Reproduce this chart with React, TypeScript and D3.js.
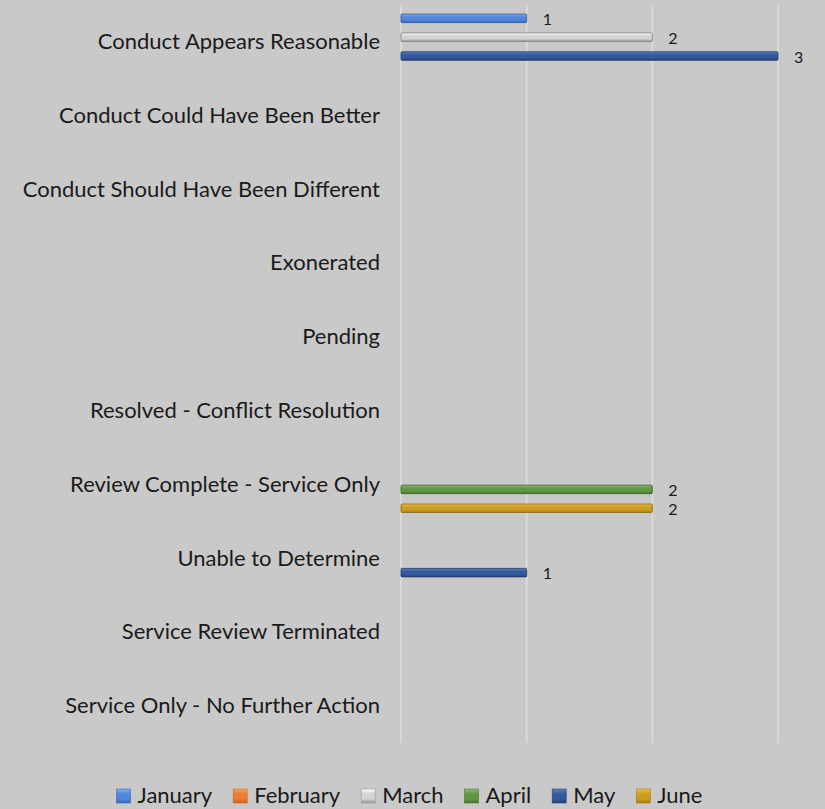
import { useEffect, useRef } from 'react';
import * as d3 from 'd3';

const categories = [
  'Conduct Appears Reasonable',
  'Conduct Could Have Been Better',
  'Conduct Should Have Been Different',
  'Exonerated',
  'Pending',
  'Resolved - Conflict Resolution',
  'Review Complete - Service Only',
  'Unable to Determine',
  'Service Review Terminated',
  'Service Only - No Further Action',
];

const months = ['January', 'February', 'March', 'April', 'May', 'June'];

const january = [1, 0, 0, 0, 0, 0, 0, 0, 0, 0];
const february = [0, 0, 0, 0, 0, 0, 0, 0, 0, 0];
const march = [2, 0, 0, 0, 0, 0, 0, 0, 0, 0];
const april = [0, 0, 0, 0, 0, 0, 2, 0, 0, 0];
const may = [3, 0, 0, 0, 0, 0, 0, 1, 0, 0];
const june = [0, 0, 0, 0, 0, 0, 2, 0, 0, 0];

const xTicks = [0, 1, 2, 3];

// highlight, base, shade, outline
const palette = [
  ['#86b0f2', '#5286dc', '#3a67b8', '#2f5597'],
  ['#f8a862', '#ed7d31', '#c8641e', '#ae5a21'],
  ['#ffffff', '#d3d3d3', '#969696', '#808080'],
  ['#8fbf70', '#609745', '#46752f', '#3b6427'],
  ['#5d84c8', '#36599c', '#263f72', '#1f3864'],
  ['#ecc048', '#cc9d20', '#a37c12', '#8a6a0f'],
];

const W = 825;
const H = 809;
const FONT = 'Lato, "Liberation Sans", sans-serif';

export default function App() {
  const ref = useRef<SVGSVGElement | null>(null);

  useEffect(() => {
    if (!ref.current) return;
    const svg = d3.select(ref.current);
    svg.selectAll('*').remove();

    const seriesValues = [january, february, march, april, may, june];
    const rows = months.flatMap((m, si) =>
      categories.map((c, ci) => ({ month: m, si, cat: c, value: seriesValues[si][ci] }))
    );

    const plot = { left: 401, right: 778, top: 5, bottom: 743 };

    const x = d3.scaleLinear().domain([0, 3]).range([plot.left, plot.right]);
    const y0 = d3.scaleBand<string>()
      .domain(categories)
      .range([plot.top, plot.bottom])
      .paddingInner(0.236)
      .paddingOuter(0.118);
    const y1 = d3.scaleBand<string>()
      .domain(months)
      .range([0, y0.bandwidth()])
      .paddingInner(0.1)
      .paddingOuter(0.04);

    svg.append('rect').attr('width', W).attr('height', H).attr('fill', '#c9c9c9');

    const defs = svg.append('defs');
    palette.forEach((p, i) => {
      const g = defs.append('linearGradient')
        .attr('id', `bar-grad-${i}`)
        .attr('x1', 0).attr('y1', 0).attr('x2', 0).attr('y2', 1);
      g.append('stop').attr('offset', '0%').attr('stop-color', p[0]);
      g.append('stop').attr('offset', '35%').attr('stop-color', p[1]);
      g.append('stop').attr('offset', '70%').attr('stop-color', p[1]);
      g.append('stop').attr('offset', '100%').attr('stop-color', p[2]);
    });

    // gridlines
    svg.append('g')
      .selectAll('line')
      .data(xTicks)
      .join('line')
      .attr('x1', d => x(d))
      .attr('x2', d => x(d))
      .attr('y1', plot.top)
      .attr('y2', plot.bottom)
      .attr('stroke', '#dedede')
      .attr('stroke-width', 1.6);

    // category labels
    svg.append('g')
      .selectAll('text')
      .data(categories)
      .join('text')
      .attr('x', plot.left - 21)
      .attr('y', d => (y0(d) ?? 0) + y0.bandwidth() / 2)
      .attr('dy', '0.32em')
      .attr('text-anchor', 'end')
      .style('font-family', FONT)
      .style('font-size', '22px')
      .style('fill', '#1a1a1a')
      .text(d => d);

    const nonZero = rows.filter(d => d.value > 0);

    // bars
    svg.append('g')
      .selectAll('rect')
      .data(nonZero)
      .join('rect')
      .attr('x', x(0))
      .attr('y', d => (y0(d.cat) ?? 0) + (y1(d.month) ?? 0))
      .attr('width', d => x(d.value) - x(0))
      .attr('height', y1.bandwidth())
      .attr('rx', 1)
      .attr('fill', d => `url(#bar-grad-${d.si})`)
      .attr('stroke', d => palette[d.si][3])
      .attr('stroke-width', 0.8);

    // value labels
    svg.append('g')
      .selectAll('text')
      .data(nonZero)
      .join('text')
      .attr('x', d => x(d.value) + 16)
      .attr('y', d => (y0(d.cat) ?? 0) + (y1(d.month) ?? 0) + y1.bandwidth() / 2 + 1)
      .attr('dy', '0.36em')
      .style('font-family', FONT)
      .style('font-size', '16px')
      .style('fill', '#1a1a1a')
      .text(d => d.value);

    // legend
    const legend = svg.append('g');
    const items = legend.selectAll('g')
      .data(months)
      .join('g');
    items.append('rect')
      .attr('width', 14)
      .attr('height', 14)
      .attr('y', -14)
      .attr('fill', (_d, i) => `url(#bar-grad-${i})`)
      .attr('stroke', (_d, i) => palette[i][2])
      .attr('stroke-width', 0.6);
    items.append('text')
      .attr('x', 21)
      .attr('y', 0)
      .style('font-family', FONT)
      .style('font-size', '22px')
      .style('fill', '#1a1a1a')
      .text(d => d);

    const widths: number[] = [];
    items.each(function () {
      const t = d3.select(this).select('text').node() as SVGTextElement;
      widths.push(21 + t.getComputedTextLength());
    });
    const gap = 21;
    const total = d3.sum(widths) + gap * (widths.length - 1);
    let cx = (W - total) / 2 - 3;
    items.attr('transform', (_d, i) => {
      const t = `translate(${cx},803)`;
      cx += widths[i] + gap;
      return t;
    });
  }, []);

  return (
    <svg
      ref={ref}
      width={W}
      height={H}
      style={{ position: 'absolute', left: 0, top: 0, display: 'block' }}
    />
  );
}
